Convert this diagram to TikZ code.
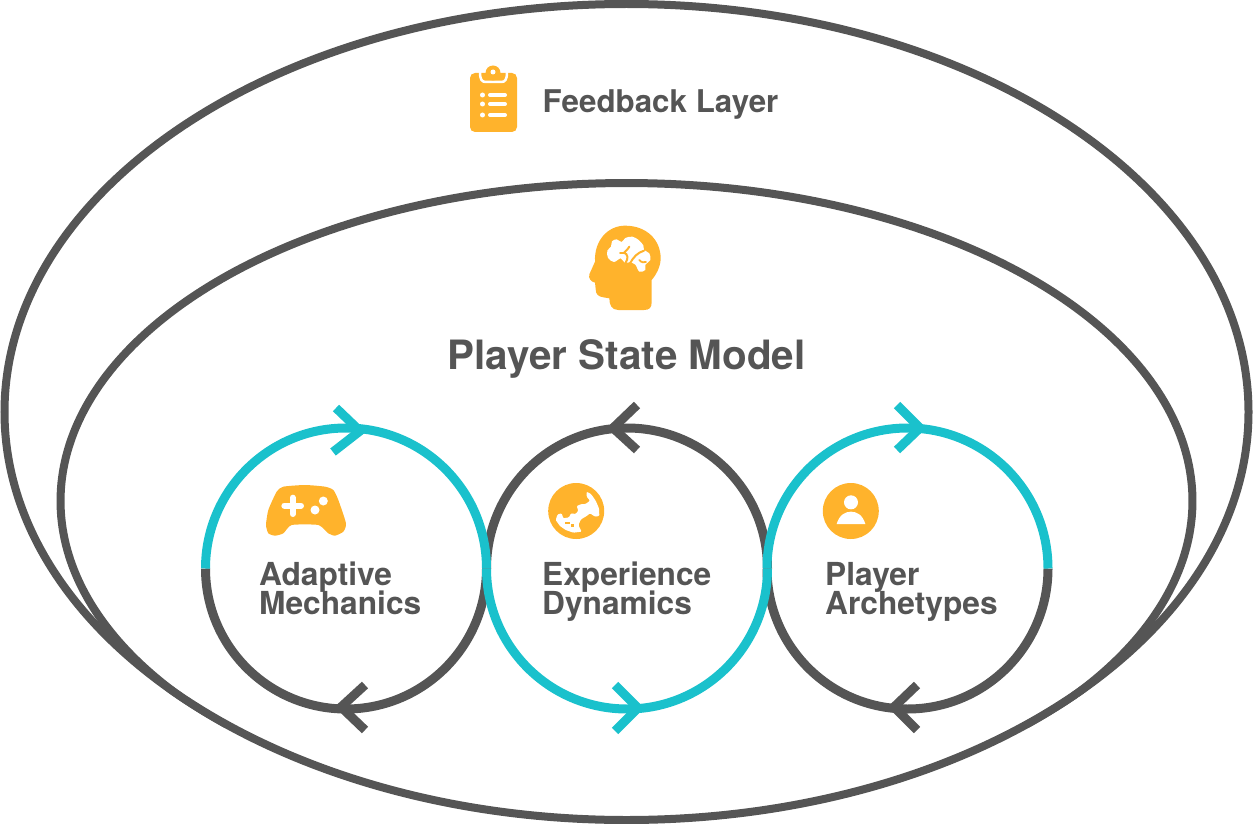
\documentclass[tikz,border=0pt]{standalone}
\usepackage{fontspec}
\setmainfont{TeX Gyre Heros}
\definecolor{ink}{HTML}{555555}
\definecolor{teal}{HTML}{1AC1CC}
\definecolor{amber}{HTML}{FFB32C}
\tikzset{
  ring/.style={draw=ink,line width=8pt},
  loopline/.style={line width=9pt},
  label/.style={font=\bfseries\fontsize{31.7}{29}\selectfont,text=ink,align=left,anchor=base west,inner sep=0pt},
  icon/.style={fill=amber,draw=none},
  zoomed/.style={x=0.33333pt,y=-0.33333pt},
}
\begin{document}
\begin{tikzpicture}[x=1pt,y=-1pt]
\useasboundingbox (0,0) rectangle (1253,824);
% outer ring
\draw[ring] (626.5,412) ellipse [x radius=622pt,y radius=408pt];
% inner ring, open at the bottom where it runs into the outer ring
\begin{scope}
\clip (626.5,412) ellipse [x radius=626pt,y radius=412pt];
\draw[ring] plot[domain=135:405,samples=270,variable=\t] ({626.5+566*cos(\t)},{501+318*sin(\t)});
\end{scope}
% loops: grey halves first, teal halves above them
\draw[ink,loopline] (205.5,568.5) arc[start angle=180,end angle=360,radius=140.5pt];
\draw[ink,loopline] (486.5,568.5) arc[start angle=180,end angle=0,radius=140.5pt];
\draw[ink,loopline] (767,568.5) arc[start angle=180,end angle=360,radius=140.5pt];
\draw[teal,loopline] (205.5,568.5) arc[start angle=180,end angle=0,radius=140.5pt];
\draw[teal,loopline] (486.5,568.5) arc[start angle=180,end angle=360,radius=140.5pt];
\draw[teal,loopline] (767,568.5) arc[start angle=180,end angle=0,radius=140.5pt];
% arrowheads
\draw[teal,loopline] (336,408) -- (360,431) -- (333,452);
\draw[ink,loopline] (365,685) -- (341,707) -- (365,730);
\draw[ink,loopline] (637,405) -- (613,428) -- (637,450);
\draw[teal,loopline] (615,685) -- (638,708) -- (615,731);
\draw[teal,loopline] (897,405) -- (920,428) -- (897,450);
\draw[ink,loopline] (917,685) -- (894,707) -- (917,730);
% texts
\node[font=\bfseries\fontsize{31.3}{29}\selectfont,text=ink,inner sep=0pt,anchor=base west] (fb) at (542.5,113) {Feedback Layer};
\node[font=\bfseries\fontsize{40.4}{40}\selectfont,text=ink,inner sep=0pt,anchor=base] (psm) at (626.5,369) {Player State Model};
\node[label] (am) at (259,614) {Adaptive\\[-3pt]Mechanics};
\node[label] (ed) at (542,614) {Experience\\[-3pt]Dynamics};
\node[label] (pa) at (825,614) {Player\\[-3pt]Archetypes};
% clipboard
\fill[icon,rounded corners=5pt] (470,73) rectangle (517,132);
\draw[white,line width=2.5pt] (480,72) .. controls (480,80) and (482,82) .. (486,82) -- (501,82) .. controls (505,82) and (507,80) .. (507,72);
\fill[icon] (493,73) circle[radius=7.5pt] (484,74) rectangle (502,79);
\fill[white] (493,72) circle[radius=2.5pt];
\foreach \yy in {95,104,115}{
  \fill[white] (482.5,\yy) circle[radius=2.5pt];
  \draw[white,line width=4pt,line cap=round] (490,\yy) -- (505,\yy);
}
% head
\begin{scope}[shift={(570,215)},zoomed]
\fill[icon] (165,32) .. controls (230,32) and (272,75) .. (272,130)
 .. controls (272,155) and (258,180) .. (245,195) -- (245,262)
 .. controls (245,278) and (238,285) .. (222,285) -- (145,285)
 .. controls (125,285) and (118,270) .. (118,250) -- (100,247)
 .. controls (85,245) and (77,238) .. (77,222) -- (75,203)
 .. controls (62,200) and (55,190) .. (58,178) -- (75,140)
 .. controls (72,75) and (115,32) .. (165,32) -- cycle;
\end{scope}
% brain
\begin{scope}[shift={(600,230)},zoomed]
\fill[white] plot[smooth cycle,tension=.55] coordinates {(22,62) (33,50) (36,34) (50,28) (65,36) (76,24) (97,20) (116,30) (130,46) (132,60) (148,70) (151,90) (136,104) (136,120) (118,125) (106,104) (90,97) (74,98) (62,85) (42,96) (24,84)};
\draw[amber,line width=2pt,line cap=round] (132,62) .. controls (112,68) and (100,82) .. (90,100);
\draw[amber,line width=2pt,line cap=round] (76,100) .. controls (86,85) and (84,72) .. (72,68) .. controls (80,62) and (84,56) .. (88,50);
\draw[amber,line width=2pt,line cap=round] (60,68) -- (72,68);
\draw[amber,line width=1.8pt,line cap=round] (118,90) .. controls (124,98) and (132,98) .. (138,96);
\end{scope}
% controller
\begin{scope}[shift={(250,470)},zoomed]
\fill[icon] plot[smooth cycle,tension=.35] coordinates {(165,45) (225,50) (250,60) (265,90) (288,160) (280,185) (255,197) (235,190) (205,165) (125,165) (100,190) (75,197) (55,190) (48,165) (55,120) (80,65) (100,50)};
\draw[white,line width=6pt,line cap=round] (103,107) -- (153,107) (128,83) -- (128,132);
\fill[white] (220,93) circle[radius=4.5pt] (195,120) circle[radius=4.5pt];
\end{scope}
% globe
\fill[icon] (576.2,511) circle[radius=28pt];
\begin{scope}[shift={(545,480)},zoomed]
\fill[white,rounded corners=1pt] (125,35) -- (138,42) -- (152,62) -- (162,85) -- (163,108) -- (150,110) -- (135,100) -- (125,108) -- (108,118) -- (100,135) -- (110,155) -- (85,158) -- (62,150) -- (45,138) -- (32,120) -- (38,103) -- (50,100) -- (55,115) -- (72,112) -- (78,100) -- (92,102) -- (100,92) -- (95,78) -- (110,72) -- (122,72) -- (135,62) -- (125,50) -- cycle;
\fill[amber] (60,125) -- (75,125) -- (75,133) -- (60,133) -- cycle;
\fill[amber] (78,132) -- (86,132) -- (86,140) -- (78,140) -- cycle;
\end{scope}
% person
\fill[icon] (850.8,511) circle[radius=28pt];
\begin{scope}[shift={(810,470)},zoomed]
\fill[white] (123,97) circle[radius=7pt];
\fill[white] (80,162) .. controls (88,135) and (105,125) .. (123,125) .. controls (141,125) and (158,135) .. (166,162) -- cycle;
\end{scope}
\end{tikzpicture}
\end{document}
